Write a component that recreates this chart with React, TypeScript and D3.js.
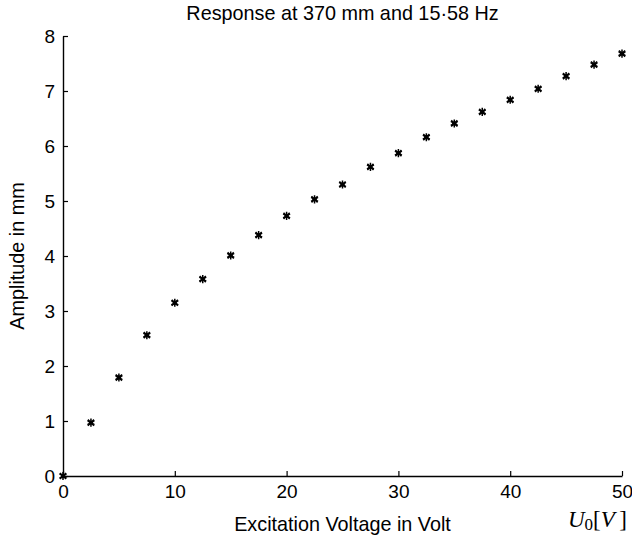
import React, { useEffect, useRef } from 'react';
import * as d3 from 'd3';

// excitation voltage (V) and measured amplitude (mm)
const voltages = [0, 2.5, 5, 7.5, 10, 12.5, 15, 17.5, 20, 22.5, 25, 27.5, 30, 32.5, 35, 37.5, 40, 42.5, 45, 47.5, 50];
const amplitudes = [0, 0.97, 1.79, 2.56, 3.15, 3.58, 4.01, 4.38, 4.73, 5.03, 5.3, 5.62, 5.87, 6.16, 6.41, 6.62, 6.84, 7.04, 7.27, 7.48, 7.68];
const xTicks = [0, 10, 20, 30, 40, 50];
const yTicks = [0, 1, 2, 3, 4, 5, 6, 7, 8];

const title = 'Response at 370 mm and 15·58 Hz';
const xLabel = 'Excitation Voltage in Volt';
const yLabel = 'Amplitude in mm';

const App = () => {
  const ref = useRef<SVGSVGElement>(null);

  useEffect(() => {
    const svg = d3.select(ref.current);
    svg.selectAll('*').remove();

    const width = 632;
    const height = 536;
    const margin = { top: 36, right: 10, bottom: 60, left: 63 };
    const font = '"Liberation Sans", Arial, sans-serif';

    const x = d3.scaleLinear().domain([0, 50]).range([margin.left, width - margin.right]);
    const y = d3.scaleLinear().domain([0, 8]).range([height - margin.bottom, margin.top]);

    // x axis, ticks pointing inward
    const xAxis = svg.append('g')
      .attr('transform', `translate(0,${y(0)})`)
      .call(d3.axisBottom(x).tickValues(xTicks).tickSizeInner(-5).tickSizeOuter(0).tickPadding(9));
    xAxis.select('.domain').attr('stroke-width', 1.4);
    xAxis.selectAll('.tick line').attr('stroke-width', 1.2);
    xAxis.selectAll('text').attr('font-family', font).attr('font-size', 19).attr('fill', '#000');

    const yAxis = svg.append('g')
      .attr('transform', `translate(${x(0)},0)`)
      .call(d3.axisLeft(y).tickValues(yTicks).tickSizeInner(-5).tickSizeOuter(0).tickPadding(8));
    yAxis.select('.domain').attr('stroke-width', 1.4);
    yAxis.selectAll('.tick line').attr('stroke-width', 1.2);
    yAxis.selectAll('text').attr('font-family', font).attr('font-size', 19).attr('fill', '#000');

    // asterisk markers
    const points = svg.append('g');
    voltages.forEach((v, i) => {
      const g = points.append('g').attr('transform', `translate(${x(v)},${y(amplitudes[i])})`);
      g.append('path')
        .attr('d', d3.symbol(d3.symbolAsterisk, 46)())
        .attr('stroke', '#000')
        .attr('stroke-width', 1.5)
        .attr('fill', 'none');
      g.append('path')
        .attr('d', d3.symbol(d3.symbolTimes, 26)())
        .attr('stroke', '#000')
        .attr('stroke-width', 1.5)
        .attr('fill', 'none');
      g.append('circle').attr('r', 2.2).attr('fill', '#000');
    });

    svg.append('text')
      .attr('x', (x(0) + x(50)) / 2)
      .attr('y', 20)
      .attr('text-anchor', 'middle')
      .attr('font-family', font)
      .attr('font-size', 19.8)
      .text(title);

    svg.append('text')
      .attr('x', (x(0) + x(50)) / 2)
      .attr('y', 531)
      .attr('text-anchor', 'middle')
      .attr('font-family', font)
      .attr('font-size', 19.8)
      .text(xLabel);

    svg.append('text')
      .attr('transform', `translate(24,${(y(0) + y(8)) / 2}) rotate(-90)`)
      .attr('text-anchor', 'middle')
      .attr('font-family', font)
      .attr('font-size', 19.8)
      .text(yLabel);

    // U_0[V] unit label
    const unit = svg.append('text')
      .attr('x', 627)
      .attr('y', 527)
      .attr('text-anchor', 'end')
      .attr('font-family', '"Liberation Serif", "Times New Roman", serif')
      .attr('font-size', 23);
    unit.append('tspan').attr('font-style', 'italic').text('U');
    unit.append('tspan').attr('dy', 3).attr('font-size', 17).text('0');
    unit.append('tspan').attr('dy', -3).text('[');
    unit.append('tspan').attr('font-style', 'italic').text('V');
    unit.append('tspan').text('\u2009]');
  }, []);

  return (
    <svg ref={ref} width={632} height={536} style={{ position: 'absolute', left: 0, top: 0, background: '#fff' }} />
  );
};

export default App;
